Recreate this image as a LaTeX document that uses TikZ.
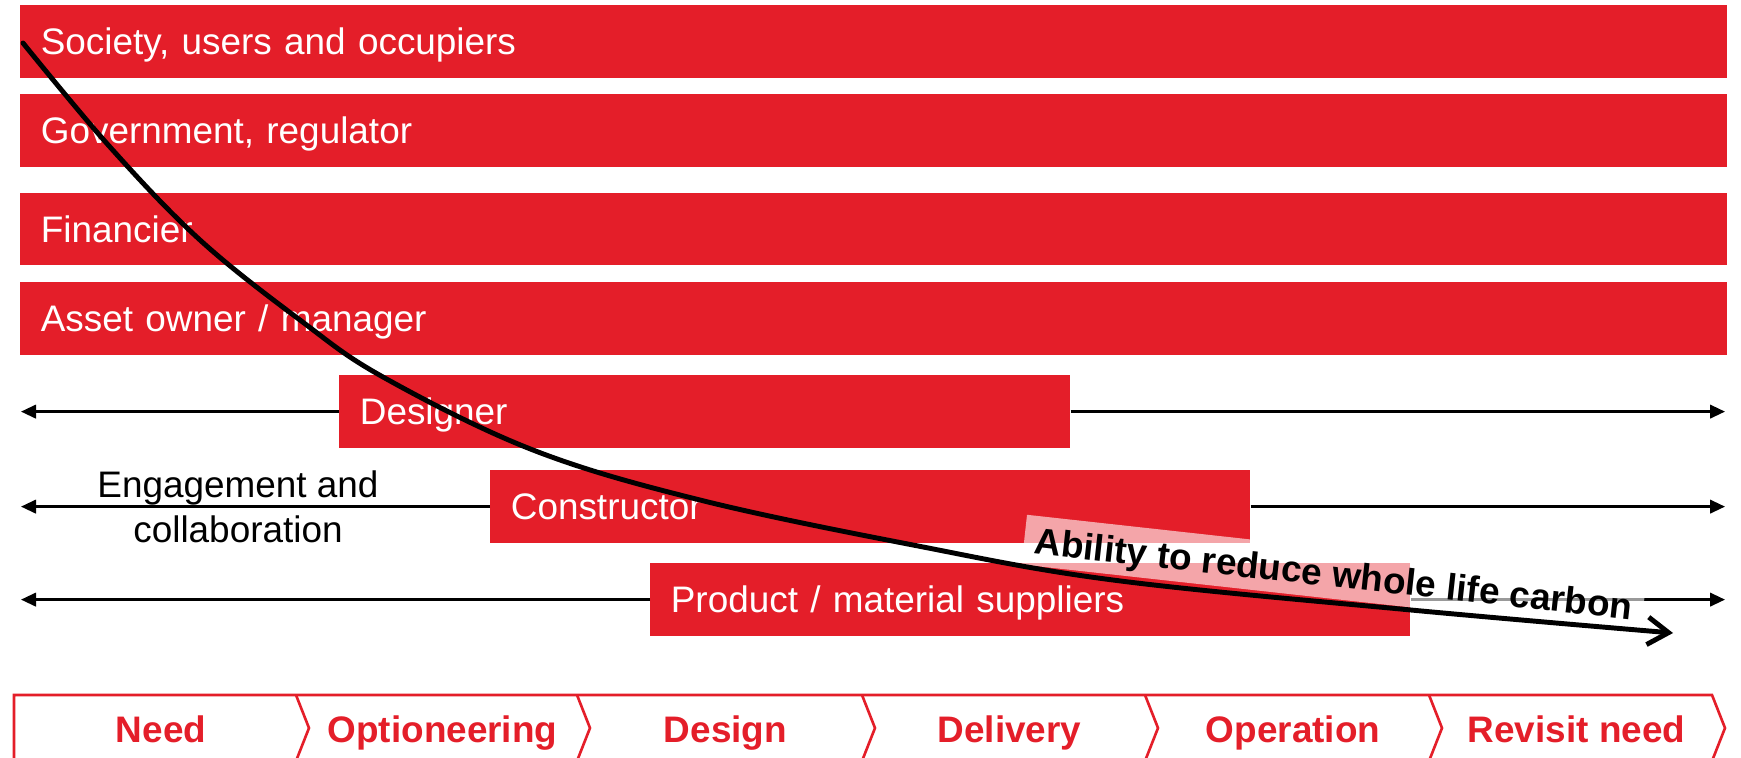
\documentclass[tikz,border=0pt]{standalone}
\usepackage{fontspec}
\setmainfont{Liberation Sans}
\usepackage{tikz}
\usetikzlibrary{arrows.meta, positioning}

\definecolor{wlred}{RGB}{228,30,41}
\newcommand{\wlfont}{\fontsize{21}{25.5}\selectfont}

\begin{document}
\begin{tikzpicture}[
    bar/.style={rectangle, fill=wlred, text=white, font=\wlfont, anchor=north west, inner xsep=0.41cm, inner ysep=0pt, minimum height=1.45cm, text height=19pt, text depth=4pt, align=left, text width=#1},
    link/.style={-{Triangle[length=0.3cm, width=0.27cm]}, line width=1.4pt},
    stage/.style={draw=wlred, line width=1.5pt},
    stagelabel/.style={text=wlred, font=\wlfont\bfseries, anchor=base},
    carbon/.style={-{Straight Barb[length=0.42cm, width=0.55cm]}, line width=2.8pt, line cap=round}
]
\useasboundingbox (0,0) rectangle (34.82,-15.14);

\node (society) [bar=33.32cm] at (0.40,-0.10) {Society, users and occupiers};
\node (government) [bar=33.32cm, below=0.31cm of society] {Government, regulator};
\node (financier) [bar=33.32cm, below=0.51cm of government] {Financier};
\node (owner) [bar=33.32cm, below=0.33cm of financier] {Asset owner / manager};
\node (designer) [bar=13.80cm] at (6.78,-7.50) {Designer};
\node (constructor) [bar=14.38cm] at (9.80,-9.40) {Constructor};
\node (suppliers) [bar=14.38cm] at (13.00,-11.26) {Product / material suppliers};

\coordinate (lhs) at (0.42,0);
\coordinate (rhs) at (34.50,0);
\foreach \n in {designer, constructor, suppliers} {
  \draw[link] (\n.west) -- (\n.west -| lhs);
  \draw[link] (\n.east) -- (\n.east -| rhs);
}

\node (engage) [font=\wlfont, align=center] at (4.76,-10.14) {Engagement and\\collaboration};

% stages along the bottom
\draw[stage] (0.28,-13.90) -- (34.24,-13.90) -- (34.50,-14.56) -- (34.24,-15.22) -- (0.28,-15.22) -- cycle;
\foreach \x in {5.92, 11.54, 17.24, 22.90, 28.58}
  \draw[stage] (\x,-13.90) -- (\x+0.26,-14.56) -- (\x,-15.22);
\foreach \x/\n/\t in {3.22/need/Need, 8.85/option/Optioneering, 14.51/design/Design, 20.19/delivery/Delivery, 25.86/operation/Operation, 31.53/revisit/Revisit need}
  \node (\n) [stagelabel] at (\x,-14.84) {\t};

\node (ability) [anchor=base west, rotate=-6.3, fill=white, fill opacity=0.6, text opacity=1, font=\wlfont\bfseries, inner xsep=0.22cm, inner ysep=0pt, text height=0.76cm, text depth=0.24cm] at (20.45,-11.05) {Ability to reduce whole life carbon};

\draw[carbon] plot[smooth, tension=0.6] coordinates {(0.46,-0.86) (2.20,-2.94) (4.00,-4.80) (6.00,-6.40) (7.66,-7.54) (10.66,-9.00) (14.00,-10.00) (18.26,-10.90) (22.26,-11.60) (28.22,-12.20) (33.46,-12.66)};
\end{tikzpicture}
\end{document}
